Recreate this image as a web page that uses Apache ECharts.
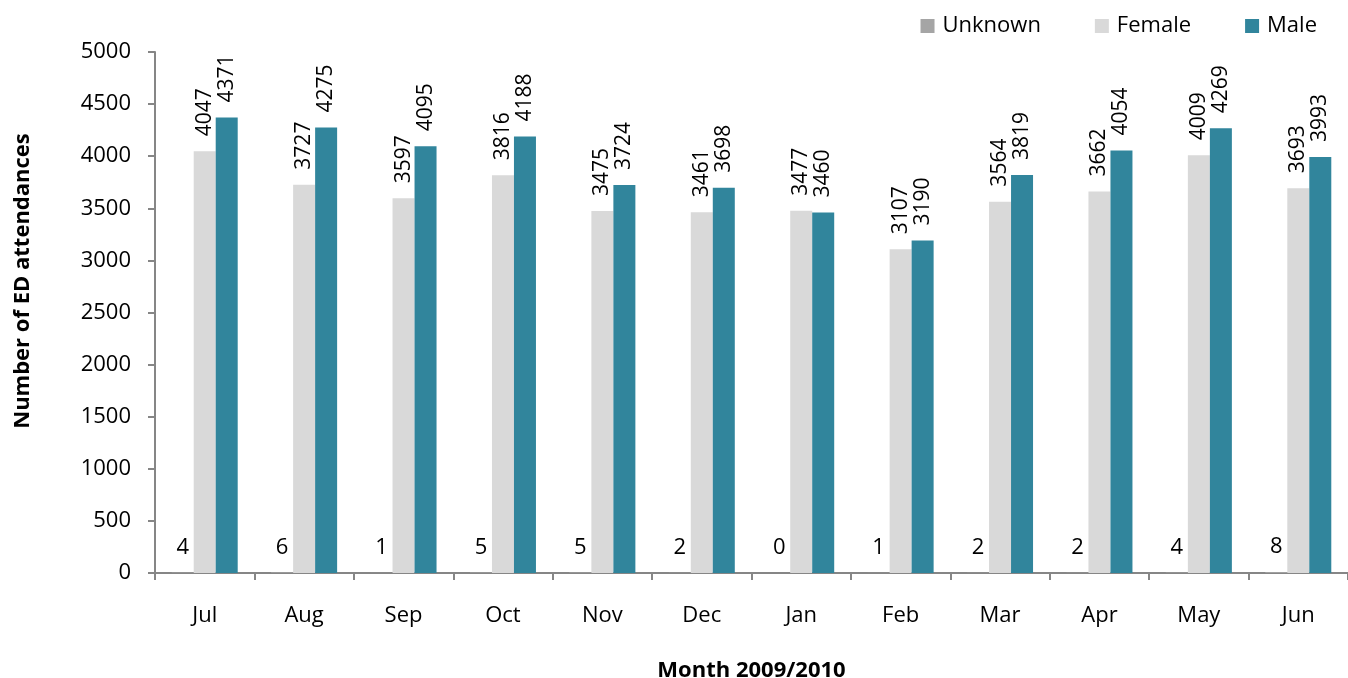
<!DOCTYPE html>
<html>
<head>
    <meta charset="utf-8">
    <title>ED attendances by month</title>
    <script src="https://cdn.jsdelivr.net/npm/echarts@6/dist/echarts.min.js"></script>
    <style>
        html, body { margin: 0; padding: 0; background: #ffffff; }
        #chart { width: 1348px; height: 678px; }
    </style>
</head>
<body>
<div id="chart"></div>
<script>
    var months = ['Jul', 'Aug', 'Sep', 'Oct', 'Nov', 'Dec', 'Jan', 'Feb', 'Mar', 'Apr', 'May', 'Jun'];
    var unknownVals = [4, 6, 1, 5, 5, 2, 0, 1, 2, 2, 4, 8];
    var femaleVals = [4047, 3727, 3597, 3816, 3475, 3461, 3477, 3107, 3564, 3662, 4009, 3693];
    var maleVals = [4371, 4275, 4095, 4188, 3724, 3698, 3460, 3190, 3819, 4054, 4269, 3993];

    var font = '"Open Sans", "Liberation Sans", sans-serif';
    var chart = echarts.init(document.getElementById('chart'));

    // rotated value labels above the female / male bars
    var vLabel = {
        show: true,
        position: 'top',
        rotate: 90,
        align: 'left',
        verticalAlign: 'middle',
        distance: 15,
        color: '#000',
        fontSize: 21,
        fontFamily: font
    };

    var option = {
        animation: false,
        textStyle: {fontFamily: font},
        legend: {
            top: 10,
            right: 26,
            itemWidth: 14,
            itemHeight: 14,
            itemGap: 54,
            icon: 'rect',
            textStyle: {fontSize: 22, color: '#000', fontFamily: font, padding: [0, 0, 0, 3]},
            data: ['Unknown', 'Female', 'Male']
        },
        grid: {left: 155, right: 0, top: 52, bottom: 105, outerBoundsMode: 'none'},
        // y axis title sits a bit above the middle of the axis
        graphic: [{
            type: 'text',
            x: 23,
            y: 281,
            rotation: Math.PI / 2,
            style: {
                text: 'Number of ED attendances',
                fontSize: 22,
                fontWeight: 'bold',
                fontFamily: font,
                fill: '#000',
                align: 'center',
                verticalAlign: 'middle'
            }
        }],
        xAxis: {
            type: 'category',
            data: months,
            name: 'Month 2009/2010',
            nameLocation: 'middle',
            nameGap: 87,
            nameTextStyle: {fontSize: 22, fontWeight: 'bold', color: '#000', fontFamily: font},
            axisLine: {lineStyle: {color: '#868686', width: 2}},
            axisTick: {show: true, length: 7, lineStyle: {color: '#868686', width: 2}},
            axisLabel: {fontSize: 22, color: '#000', margin: 32, fontFamily: font}
        },
        yAxis: {
            type: 'value',
            min: 0,
            max: 5000,
            interval: 500,
            splitLine: {show: false},
            axisLine: {show: true, lineStyle: {color: '#868686', width: 2}},
            axisTick: {show: true, length: 7, lineStyle: {color: '#868686', width: 2}},
            axisLabel: {fontSize: 22, color: '#000', margin: 24, fontFamily: font, formatter: function (v) { return String(v); }}
        },
        series: [
            {
                name: 'Unknown',
                type: 'bar',
                data: unknownVals,
                barWidth: 22,
                barGap: '0%',
                itemStyle: {color: '#a5a5a5'},
                label: {show: true, position: 'top', distance: 14, color: '#000', fontSize: 22, fontFamily: font}
            },
            {
                name: 'Female',
                type: 'bar',
                data: femaleVals,
                barWidth: 22,
                barGap: '0%',
                itemStyle: {color: '#d9d9d9'},
                label: vLabel
            },
            {
                name: 'Male',
                type: 'bar',
                data: maleVals,
                barWidth: 22,
                barGap: '0%',
                itemStyle: {color: '#31859c'},
                label: vLabel
            }
        ]
    };

    chart.setOption(option);
</script>
</body>
</html>
